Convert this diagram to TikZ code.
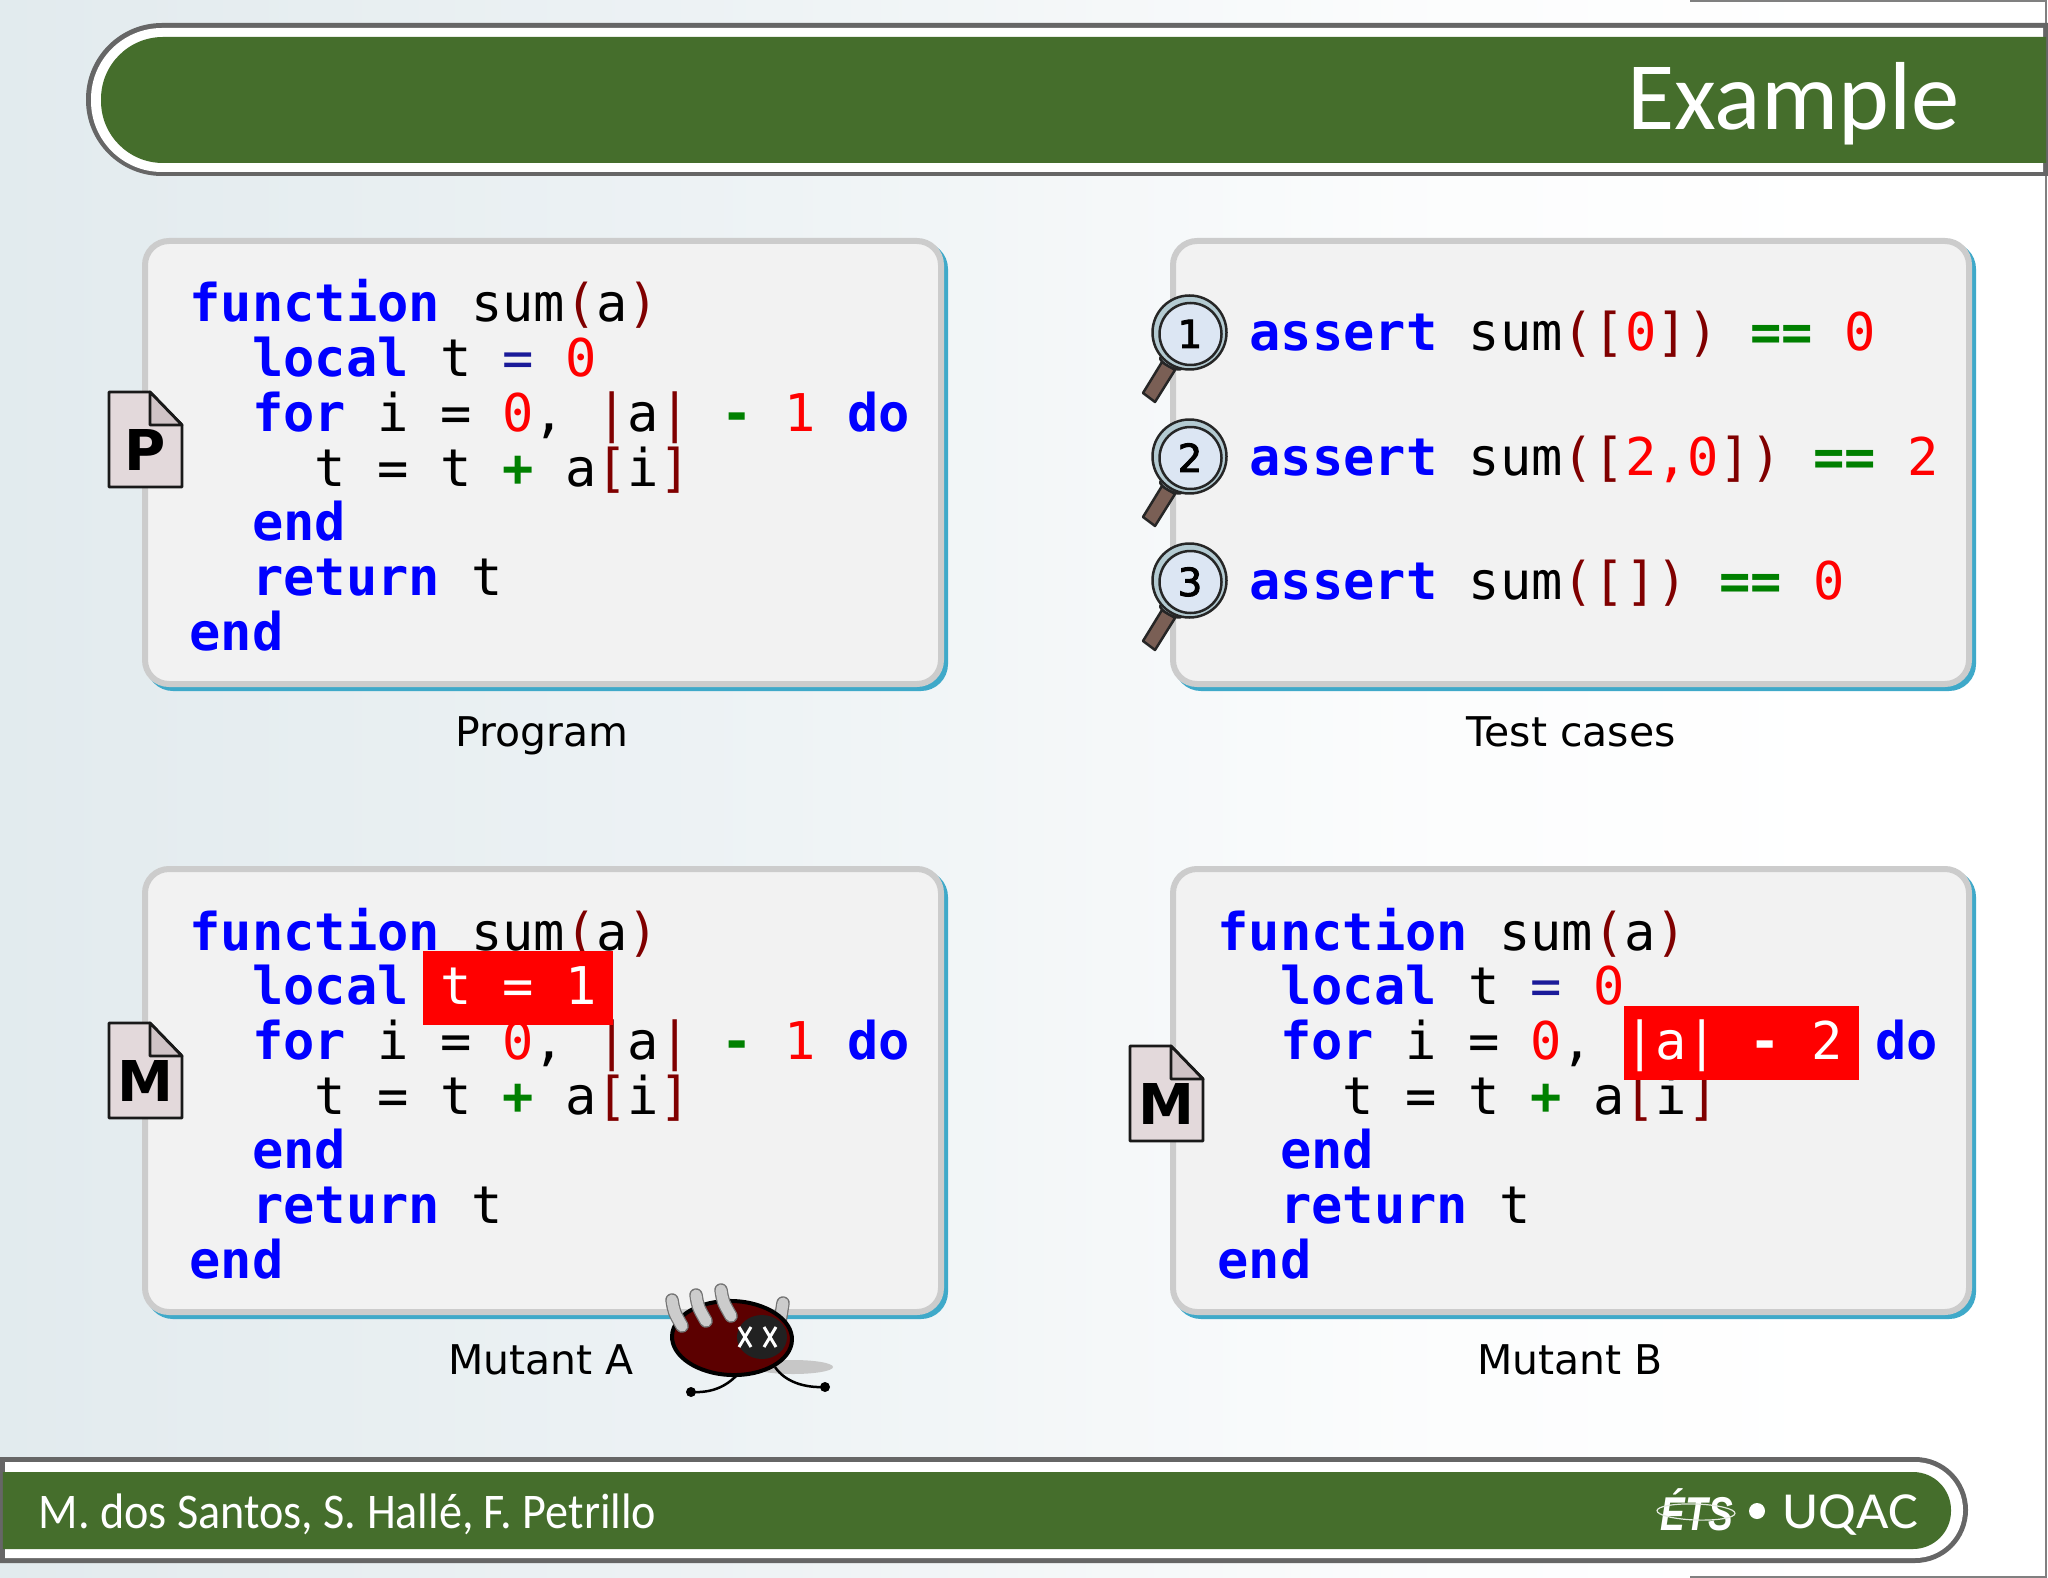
\documentclass[tikz,border=0pt]{standalone}
\usepackage{fontspec}
\setmainfont{DejaVu Sans}
\setmonofont{DejaVu Sans Mono}
\newfontfamily\gillfont{Carlito}
\newfontfamily\gillnarrow[FakeStretch=0.925]{Carlito}
\newfontfamily\gillwide[FakeStretch=1.08]{Carlito}
\newfontfamily\etsfont[FakeStretch=0.78]{Liberation Sans}
\newfontfamily\medfont[FakeBold=2.5]{DejaVu Sans}
\definecolor{hdgreen}{HTML}{456E2C}
\definecolor{hdgray}{HTML}{666666}
\definecolor{panelgray}{HTML}{CCCCCC}
\definecolor{panelfill}{HTML}{F2F2F2}
\definecolor{panelteal}{HTML}{3FA9C9}
\definecolor{bgleft}{HTML}{DDE7EB}
\definecolor{codeblue}{HTML}{0000FF}
\definecolor{codered}{HTML}{FF0000}
\definecolor{codepar}{HTML}{800000}
\definecolor{codegreen}{HTML}{008000}
\definecolor{codenavy}{HTML}{1A1A99}
\definecolor{docfill}{HTML}{E3D9DB}
\definecolor{docfold}{HTML}{CFC3C6}
\definecolor{lensback}{HTML}{B4CBD2}
\definecolor{lensfront}{HTML}{DCE6F3}
\definecolor{handle}{HTML}{7A5F55}
\definecolor{bugbody}{HTML}{5C0000}
\pgfdeclarehorizontalshading{bgshade}{100bp}{
  color(0bp)=(bgleft); color(25bp)=(bgleft!85!white); color(44bp)=(bgleft!50!white);
  color(52bp)=(bgleft!30!white); color(60bp)=(bgleft!10!white); color(70bp)=(white); color(100bp)=(white)}
\newcommand{\kw}[1]{\textcolor{codeblue}{\bfseries #1}}
\newcommand{\nm}[1]{\textcolor{codered}{#1}}
\newcommand{\pn}[1]{\textcolor{codepar}{#1}}
\newcommand{\gn}[1]{\textcolor{codegreen}{\bfseries #1}}
% #1 = rest of the "local" line, #2 = rest of the "for" line
\newcommand{\progcode}[2]{
  \node[codeline] (l1) at (189.5,322) {\kw{function}~sum\pn{(}a\pn{)}};
  \node[codeline] (l2) at (189.5,376.7) {~~\kw{local}~#1};
  \node[codeline] (l3) at (189.5,431.4) {~~\kw{for}~i~=~\nm{0},~#2};
  \node[codeline] (l4) at (189.5,486.1) {~~~~t~=~t~\gn{+}~a\pn{[}i\pn{]}};
  \node[codeline] (l5) at (189.5,540.8) {~~\kw{end}};
  \node[codeline] (l6) at (189.5,595.5) {~~\kw{return}~t};
  \node[codeline] (l7) at (189.5,650.2) {\kw{end}};
}
\newcommand{\docicon}[3]{% x, y, letter
  \begin{scope}[shift={(#1,#2)}]
    \draw[docline,fill=docfill] (0,0) -- (41,0) -- (73,33) -- (73,95) -- (0,95) -- cycle;
    \draw[docline,fill=docfold] (41,0) -- (73,33) -- (41,33) -- cycle;
    \node[docletter] at (36.5,78) {#3};
  \end{scope}
}
\newcommand{\magnifier}[2]{% y shift, number
  \begin{scope}[shift={(0,#1)}]
    \draw[lensline,fill=handle] (1162,362) -- (1175,370) -- (1155,402) -- (1143,393) -- cycle;
    \draw[lensline,fill=lensback,rotate around={-27:(1171,363)}] (1171,363) ellipse [x radius=12,y radius=4];
    \draw[lensline,fill=lensback] (1189.5,332.5) circle [radius=37];
    \draw[lensline,fill=lensfront] (1190.5,334) circle [radius=31];
    \node[lensnum] at (1190,348) {#2};
  \end{scope}
}
\tikzset{
  x=0.1mm,y=-0.1mm,
  codeline/.style={anchor=base west,inner sep=0pt,outer sep=0pt,text=black,
    font=\ttfamily\fontsize{14.8}{16}\selectfont\frenchspacing},
  panel/.style={rectangle,minimum width=79.6mm,minimum height=44.3mm,rounded corners=2.4mm,
    line width=0.6mm,draw=panelgray,fill=panelfill,inner sep=0pt},
  panelshadow/.style={rectangle,minimum width=79.6mm,minimum height=44.3mm,rounded corners=2.4mm,
    line width=0.6mm,draw=panelteal,fill=panelteal,inner sep=0pt},
  caption/.style={anchor=base,inner sep=0pt,text=black,font=\fontsize{11.65}{14}\selectfont},
  redbox/.style={rectangle,fill=red,inner sep=0pt,minimum height=7.4mm},
  docline/.style={draw=black!90,line width=0.28mm,line join=round},
  docletter/.style={anchor=base,inner sep=0pt,text=black,font=\bfseries\fontsize{16}{18}\selectfont},
  lensline/.style={draw=black!85,line width=0.25mm,line join=round},
  lensnum/.style={anchor=base,inner sep=0pt,text=black,font=\medfont\fontsize{11}{13}\selectfont},
  barwhite/.style={fill=white},
  title/.style={anchor=base east,inner sep=0pt,text=white,font=\gillfont\fontsize{27.5}{30}\selectfont},
  footer/.style={anchor=base west,inner sep=0pt,text=white,font=\gillnarrow\fontsize{14.2}{17}\selectfont},
  uqacstyle/.style={anchor=base west,inner sep=0pt,text=white,font=\gillwide\fontsize{14.8}{17}\selectfont},
  legpart/.style={line cap=round,line width=1.35mm,draw=black!55},
  leginner/.style={line cap=round,line width=1.1mm,draw=black!20},
}
\begin{document}
\begin{tikzpicture}
\useasboundingbox (0,0) rectangle (2048,1578);
\fill[shading=bgshade] (0,0) rectangle (2048,1578);
\draw[draw=black!50,line width=0.2mm] (1690,1) -- (2046,1) -- (2046,1577) -- (1690,1577);

% header
\fill[hdgray] (2048,23) [rounded corners=7.6mm] -- (86,23) -- (86,176) [sharp corners] -- (2048,176) -- cycle;
\fill[barwhite] (2043,28) [rounded corners=7.1mm] -- (91,28) -- (91,172) [sharp corners] -- (2043,172) -- cycle;
\fill[hdgreen] (2046,37) [rounded corners=6.2mm] -- (101,37) -- (101,163) [sharp corners] -- (2046,163) -- cycle;
\node[title] (title) at (1960,130) {Example};

% panels
\node[panelshadow] (s1) at (547,466.5) {};
\node[panel] (p1) at (543,462.5) {};
\node[panelshadow] (s2) at (1575,466.5) {};
\node[panel] (p2) at (1571,462.5) {};
\node[panelshadow] (s3) at (547,1094.5) {};
\node[panel] (p3) at (543,1090.5) {};
\node[panelshadow] (s4) at (1575,1094.5) {};
\node[panel] (p4) at (1571,1090.5) {};

% program
\begin{scope}[name prefix=prog-]
  \progcode{t~\textcolor{codenavy}{=}~\nm{0}}{\pn{|}a\pn{|}~\gn{-}~\nm{1}~\kw{do}}
\end{scope}

% test cases
\node[codeline] (t1) at (1249.5,351) {\kw{assert}~sum\pn{([}\nm{0}\pn{])}~\gn{==}~\nm{0}};
\node[codeline] (t2) at (1249.5,475) {\kw{assert}~sum\pn{([}\nm{2,0}\pn{])}~\gn{==}~\nm{2}};
\node[codeline] (t3) at (1249.5,599) {\kw{assert}~sum\pn{([])}~\gn{==}~\nm{0}};

% mutant A
\begin{scope}[shift={(0,628)},name prefix=ma-]
  \progcode{}{\pn{|}a\pn{|}~\gn{-}~\nm{1}~\kw{do}}
\end{scope}
\node[redbox,minimum width=19.0mm] (boxa) at (518,987.5) {};
\node[codeline,text=white] (fixa) at (440,1004.5) {t~=~1};

% mutant B
\begin{scope}[shift={(1028,628)},name prefix=mb-]
  \progcode{t~\textcolor{codenavy}{=}~\nm{0}}{~~~~~~~~\kw{do}}
\end{scope}
\node[redbox,minimum width=23.5mm] (boxb) at (1741,1043) {};
\node[codeline,text=white] (fixb) at (1624,1059.4) {|a|~\textbf{-}~2};

% captions
\node[caption] (c1) at (542,746.5) {Program};
\node[caption] (c2) at (1571,746.5) {Test cases};
\node[caption] (c3) at (541,1374.5) {Mutant A};
\node[caption] (c4) at (1570,1374.5) {Mutant B};

% file icons
\docicon{109}{392}{P}
\docicon{109}{1023}{M}
\docicon{1130}{1046}{M}

% magnifiers
\magnifier{0}{1}
\magnifier{124}{2}
\magnifier{248}{3}

% dead bug
\fill[black!22] (793,1367) ellipse [x radius=40,y radius=7];
\draw[legpart] (783,1303) -- (780,1322);
\draw[leginner] (783,1303) -- (780,1322);
\draw[black,line width=0.25mm] (738,1374) .. controls (725,1388) and (710,1393) .. (691,1392);
\draw[black,line width=0.25mm] (775,1367) .. controls (785,1382) and (805,1388) .. (825,1387);
\fill[black] (691,1392) circle [radius=5];
\fill[black] (825,1387) circle [radius=5];
\draw[black,line width=0.4mm,fill=bugbody,rotate around={-2:(732,1338)}] (732,1338) ellipse [x radius=60,y radius=37];
\fill[black!87] (762,1337) ellipse [x radius=25,y radius=22];
\foreach \cx in {745,770}{
  \draw[white,line width=0.3mm] (\cx-6,1327) -- (\cx+6,1347);
  \draw[white,line width=0.3mm] (\cx+6,1327) -- (\cx-6,1347);
}
\foreach \ax/\ay/\bx/\by/\mx in {672/1300/682/1326/674,696/1295/706/1321/698,721/1290/731/1316/723}{
  \draw[legpart] (\ax,\ay) .. controls (\mx,\ay+12) .. (\bx,\by);
  \draw[leginner] (\ax,\ay) .. controls (\mx,\ay+12) .. (\bx,\by);
}

% footer
\fill[hdgray] (0,1457) [rounded corners=5.3mm] -- (1968,1457) -- (1968,1563) [sharp corners] -- (0,1563) -- cycle;
\fill[barwhite] (5,1462) [rounded corners=4.8mm] -- (1963,1462) -- (1963,1558) [sharp corners] -- (5,1558) -- cycle;
\fill[hdgreen] (3,1472) [rounded corners=3.8mm] -- (1951,1472) -- (1951,1549) [sharp corners] -- (3,1549) -- cycle;
\node[footer] (authors) at (38,1528) {M. dos Santos, S. Hallé, F. Petrillo};
\node[anchor=base west,inner sep=0pt,text=white,font=\etsfont\bfseries\itshape\fontsize{13.5}{15}\selectfont] (ets) at (1660,1530) {ÉTS};
\draw[white!85!hdgreen,line width=0.12mm,rotate around={-2:(1696,1512)}] (1696,1512) ellipse [x radius=39,y radius=8];
\fill[white] (1757,1511) circle [radius=8];
\node[uqacstyle] (uqac) at (1782,1528) {UQAC};
\end{tikzpicture}
\end{document}
